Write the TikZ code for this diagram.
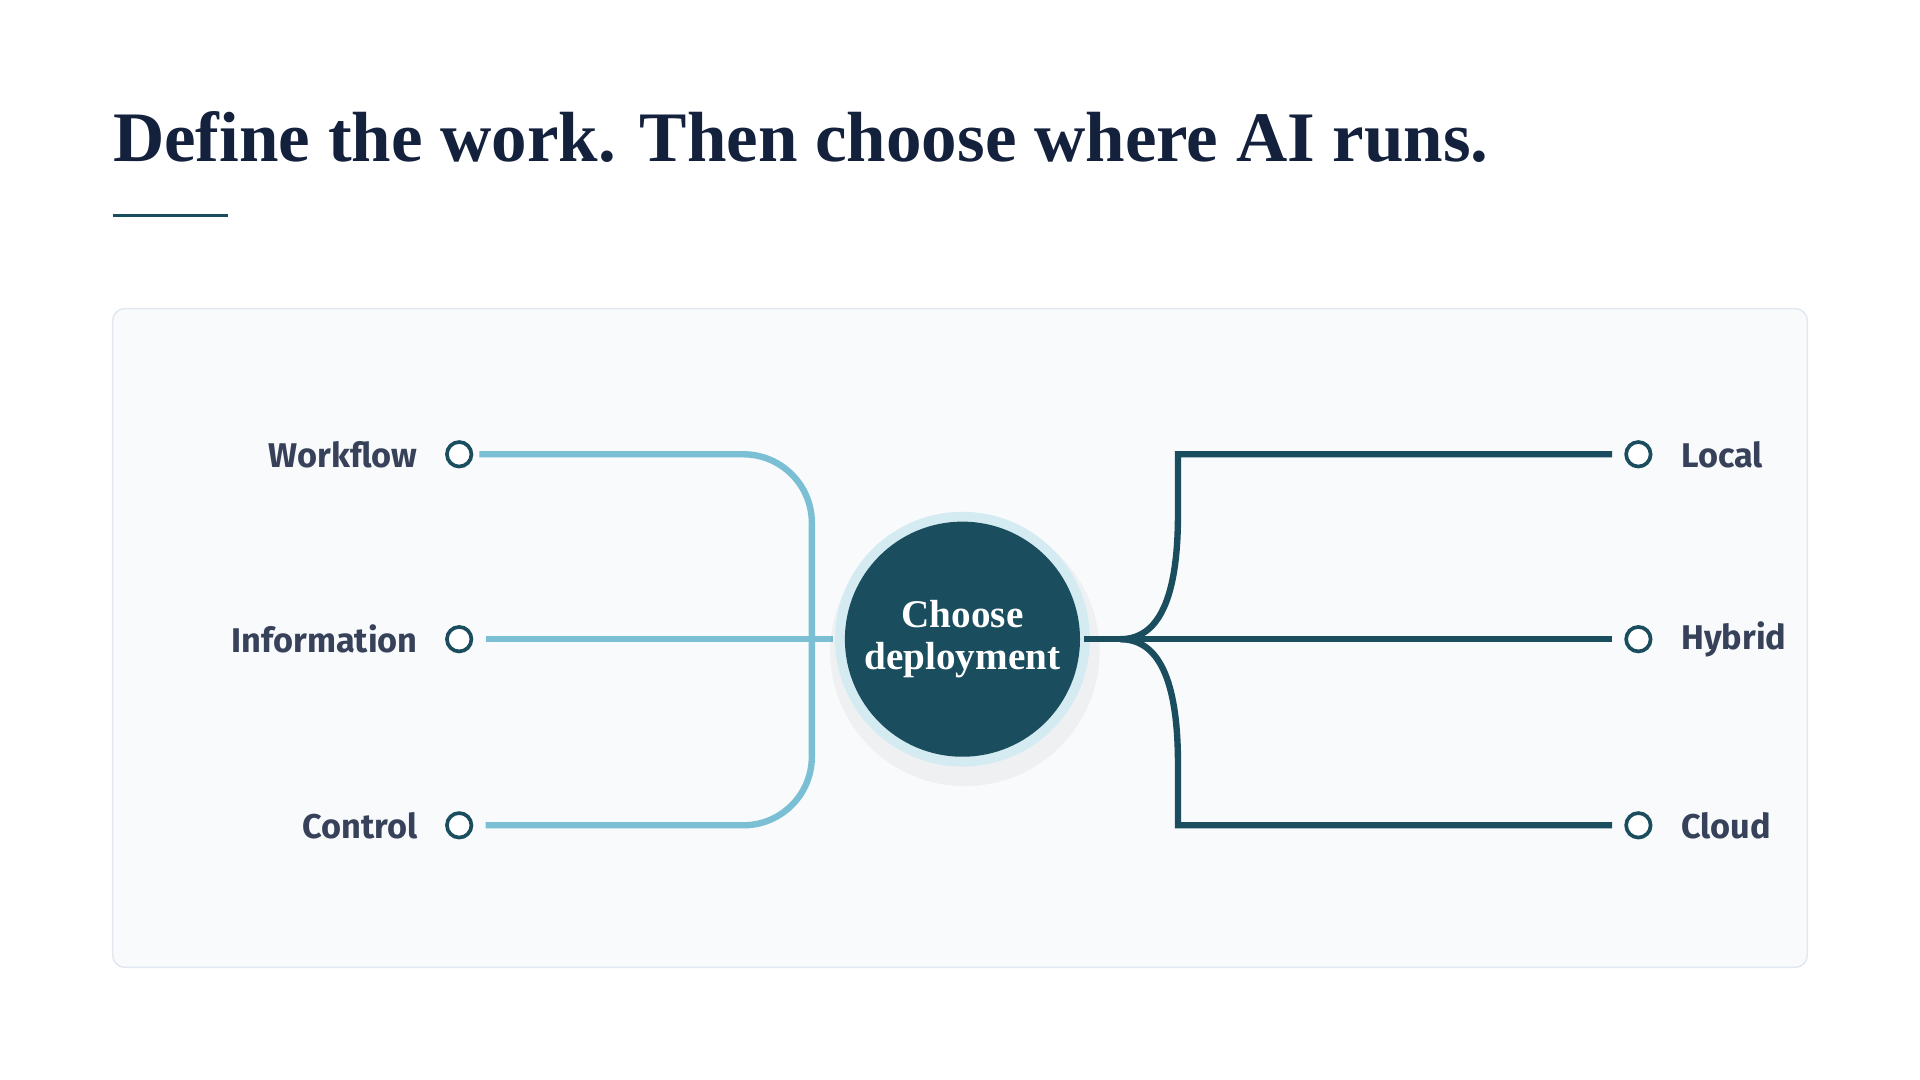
\documentclass[tikz,border=0pt]{standalone}
\usepackage{fontspec}
\setmainfont{Liberation Serif}
\newfontfamily\labelfont{Fira Sans}
\usepackage{tikz}

\definecolor{inkdark}{HTML}{14213D}
\definecolor{tealdark}{HTML}{1A4D5E}
\definecolor{tealline}{HTML}{7BBFD4}
\definecolor{panelfill}{HTML}{F8FAFC}
\definecolor{panelline}{HTML}{E2E8F0}
\definecolor{ringblue}{HTML}{D4EBF2}

\begin{document}
\begin{tikzpicture}[x=0.5pt, y=-0.5pt,
		dot_style/.style={circle,draw=tealdark,line width=1.5pt,fill=white,minimum size=10pt,inner sep=0pt},
		label_style/.style={font=\labelfont\fontsize{14}{16}\selectfont\bfseries,text=inkdark!85},
		in_style/.style={draw=tealline,line width=2.6pt},
		out_style/.style={draw=tealdark,line width=2.6pt}]

		\useasboundingbox (0,0) rectangle (1568,882);
		\fill[white] (0,0) rectangle (1568,882);

		% heading
		\node[anchor=base west,inner sep=0pt,text=inkdark,font=\fontsize{29}{32}\selectfont\bfseries] (title) at (92,132) {Define the work. Then choose where AI runs.};
		\draw[tealdark,line width=1.6pt] (92,176) -- (186,176);

		% panel
		\draw[panelline,fill=panelfill,line width=0.6pt,rounded corners=5pt] (92,252) rectangle (1476,790);

		% inputs
		\node[dot_style] (wf) at (375,371) {};
		\node[dot_style] (inf) at (375,522) {};
		\node[dot_style] (ctl) at (375,674) {};
		\node[label_style,anchor=east] at (348,371) {Workflow};
		\node[label_style,anchor=east] at (348,522) {Information};
		\node[label_style,anchor=east] at (348,674) {Control};

		\coordinate (hub) at (680,522);
		\draw[in_style,rounded corners=28pt] (wf.east) ++(5,0) -- (663,371) -- (663,674) -- ([xshift=5]ctl.east);
		\draw[in_style] ([xshift=5]inf.east) -- (hub);

		% centre
		\fill[black,opacity=0.04] (788,532) circle (110);
		\fill[ringblue] (786,522) circle (104);
		\node[circle,fill=tealdark,minimum size=96pt,inner sep=0pt,align=center,text=white,
			font=\fontsize{16}{17}\selectfont\bfseries] (dep) at (786,522) {Choose\\deployment};

		% outputs
		\node[dot_style] (loc) at (1338,371) {};
		\node[dot_style] (hyb) at (1338,522) {};
		\node[dot_style] (cld) at (1338,674) {};
		\node[label_style,anchor=west] at (1366,371) {Local};
		\node[label_style,anchor=west] at (1366,522) {Hybrid};
		\node[label_style,anchor=west] at (1366,674) {Cloud};

		\coordinate (fork) at (915,522);
		\draw[out_style] (dep.east) ++(3,0) -- (fork) -- ([xshift=-5]hyb.west);
		\draw[out_style] (fork) .. controls (950,522) and (962,480) .. (962,420) -- (962,371) -- ([xshift=-5]loc.west);
		\draw[out_style] (fork) .. controls (950,522) and (962,564) .. (962,624) -- (962,674) -- ([xshift=-5]cld.west);
\end{tikzpicture}
\end{document}
